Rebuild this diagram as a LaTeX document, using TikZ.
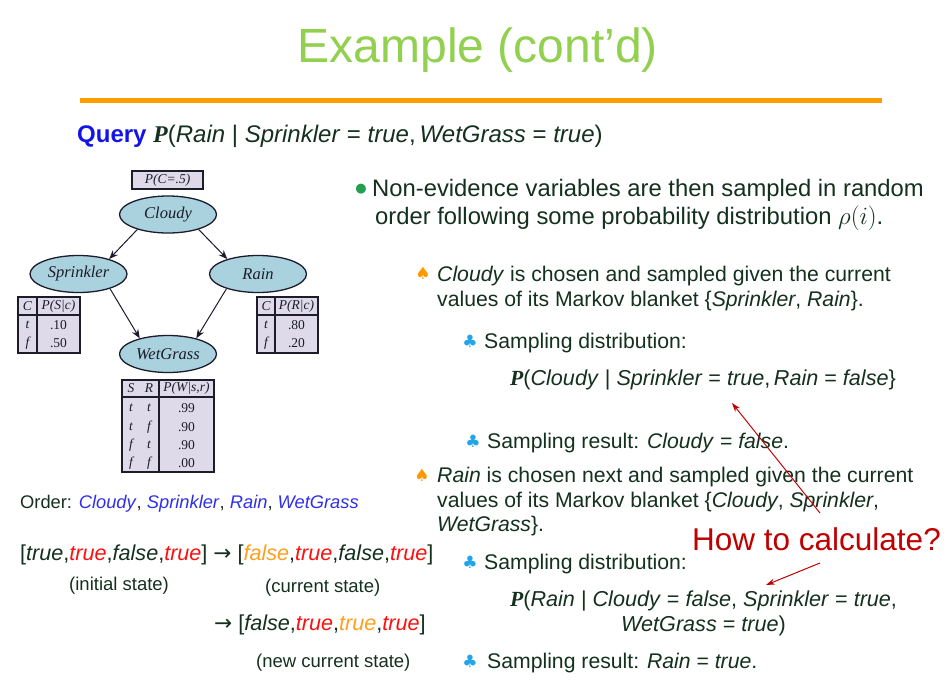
\documentclass[tikz,border=0pt]{standalone}
\usepackage{fontspec}
\setmainfont{Liberation Sans}
\newfontfamily\serifface{Liberation Serif}
\newfontfamily\symface{DejaVu Sans}
\usetikzlibrary{shapes.geometric,arrows.meta}
\definecolor{titlegreen}{HTML}{92D050}
\definecolor{rulecol}{HTML}{FF9D00}
\definecolor{ink}{HTML}{14301E}
\definecolor{qblue}{HTML}{1414E6}
\definecolor{vblue}{HTML}{3030E8}
\definecolor{clubblue}{HTML}{1FA5E8}
\definecolor{spadeorange}{HTML}{FF9900}
\definecolor{dotgreen}{HTML}{22A050}
\definecolor{calcred}{HTML}{C00000}
\definecolor{nodefill}{HTML}{A9D1DE}
\definecolor{cptfill}{HTML}{DEDAEA}
\definecolor{netline}{HTML}{1C1C2C}
\definecolor{valred}{HTML}{FF1010}
\definecolor{valorange}{HTML}{FFA020}
\newcommand\var[1]{\textit{#1}}
\newcommand\bigP{{\serifface\bfseries\itshape P}}
\newcommand\fsz[2]{\fontsize{#1}{#2}\selectfont}
\newcommand\rarr{{\symface →}}

\begin{document}
\begin{tikzpicture}[x=1pt,y=-1pt,
  txt/.style={anchor=base west,inner sep=0pt,text=ink,font=\fsz{21.2}{25}},
  formula/.style={txt,font=\fsz{21.6}{25}},
  state/.style={txt,font=\fsz{21.6}{25}},
  statelab/.style={txt,font=\fsz{18.5}{22}},
  varnode/.style={ellipse,draw=netline,line width=1.3pt,fill=nodefill,minimum width=97pt,minimum height=37pt,inner sep=0pt,font=\serifface\itshape\fsz{16.5}{16.5},text=netline},
  cpt/.style={draw=netline,line width=2pt,fill=cptfill},
  cptline/.style={draw=netline,line width=1.6pt},
  cell/.style={inner sep=0pt,font=\serifface\itshape\fsz{13.5}{13.5},text=netline},
  num/.style={inner sep=0pt,font=\serifface\fsz{13.5}{13.5},text=netline},
  edge/.style={draw=netline,line width=1pt,-{Stealth[length=9pt,width=7pt]}},
  club/.style={inner sep=0pt,text=clubblue,font=\symface\fsz{17}{17}},
  spade/.style={inner sep=0pt,text=spadeorange,font=\symface\fsz{17}{17}},
  callout/.style={draw=calcred,line width=1pt,-{Stealth[length=9pt,width=6pt]}},
]
\fill[white] (0,0) rectangle (950,686);
\useasboundingbox (0,0) rectangle (950,686);

% heading and rule
\node[inner sep=0pt,text=titlegreen,font=\fsz{48}{48}] (title) at (478,50) {Example (cont’d)};
\draw[rulecol,line width=5pt] (80,100) -- (882,100);

% query
\node[txt,font=\fsz{24}{28}] (query) at (77,142) {\textcolor{qblue}{\bfseries Query} \bigP(\var{Rain} | \var{Sprinkler} = \var{true},\,\var{WetGrass} = \var{true})};

% Bayesian network
\node[draw=netline,line width=1.6pt,fill=cptfill,minimum width=71pt,minimum height=18pt,inner sep=0pt,font=\serifface\itshape\fsz{13.5}{13.5},text=netline] (pc) at (167.5,180) {P(C=.5)};
\node[varnode] (cloudy) at (168,214.5) {Cloudy};
\node[varnode] (sprinkler) at (78.5,274) {Sprinkler};
\node[varnode] (rain) at (258,274) {Rain};
\node[varnode] (wetgrass) at (168,354) {WetGrass};
\draw[edge] (cloudy.-154) -- (sprinkler.26);
\draw[edge] (cloudy.-26) -- (rain.154);
\draw[edge] (sprinkler.-25) -- (wetgrass.151);
\draw[edge] (rain.-155) -- (wetgrass.29);

% CPT of Sprinkler
\draw[cpt] (18,297) rectangle (80,353);
\draw[cptline] (37,297) -- (37,353) (18,315) -- (80,315);
\node[cell] (sh1) at (27.5,306) {C};
\node[cell] (sh2) at (58.5,306) {P(S|c)};
\node[cell] (s11) at (27.5,325) {t};
\node[num] (s12) at (58.5,325) {.10};
\node[cell] (s21) at (27.5,343) {f};
\node[num] (s22) at (58.5,343) {.50};

% CPT of Rain
\draw[cpt] (257,297) rectangle (318,353);
\draw[cptline] (275,297) -- (275,353) (257,315) -- (318,315);
\node[cell] (rh1) at (266,306) {C};
\node[cell] (rh2) at (296.5,306) {P(R|c)};
\node[cell] (r11) at (266,325) {t};
\node[num] (r12) at (296.5,325) {.80};
\node[cell] (r21) at (266,343) {f};
\node[num] (r22) at (296.5,343) {.20};

% CPT of WetGrass
\draw[cpt] (122,380) rectangle (214,472);
\draw[cptline] (159,380) -- (159,472) (122,397) -- (214,397);
\node[cell] (wh1) at (131,388.5) {S};
\node[cell] (wh2) at (149,388.5) {R};
\node[cell] (wh3) at (186.5,388.5) {P(W|s,r)};
\node[cell] (w11) at (131,408) {t};
\node[cell] (w12) at (149,408) {t};
\node[num] (w13) at (186.5,408) {.99};
\node[cell] (w21) at (131,427) {t};
\node[cell] (w22) at (149,427) {f};
\node[num] (w23) at (186.5,427) {.90};
\node[cell] (w31) at (131,445) {f};
\node[cell] (w32) at (149,445) {t};
\node[num] (w33) at (186.5,445) {.90};
\node[cell] (w41) at (131,463) {f};
\node[cell] (w42) at (149,463) {f};
\node[num] (w43) at (186.5,463) {.00};

% sampling order and states
\node[txt,font=\fsz{18.3}{22}] (order) at (20,508) {Order: \textcolor{vblue}{\var{Cloudy}}, \textcolor{vblue}{\var{Sprinkler}}, \textcolor{vblue}{\var{Rain}}, \textcolor{vblue}{\var{WetGrass}}};
\node[state] (st1) at (20,560) {[\var{true},\textcolor{valred}{\var{true}},\var{false},\textcolor{valred}{\var{true}}] \rarr{} [\textcolor{valorange}{\var{false}},\textcolor{valred}{\var{true}},\var{false},\textcolor{valred}{\var{true}}]};
\node[statelab] (st1lab) at (69,590) {(initial state)};
\node[statelab] (st2lab) at (265,592) {(current state)};
\node[state] (st3) at (214,630) {\rarr{} [\var{false},\textcolor{valred}{\var{true}},\textcolor{valorange}{\var{true}},\textcolor{valred}{\var{true}}]};
\node[statelab] (st3lab) at (256,667) {(new current state)};

% bullet list
\node[inner sep=0pt,text=dotgreen,font=\symface\fsz{13}{13}] (dot1) at (361,189) {●};
\node[txt,font=\fsz{23.8}{28}] (b1a) at (372,196) {Non-evidence variables are then sampled in random};
\node[txt,font=\fsz{23.8}{28}] (b1b) at (375,224) {order following some probability distribution $\rho(i)$.};

\node[spade] (sp1) at (423,273) {♠};
\node[txt] (s1a) at (437,281) {\var{Cloudy} is chosen and sampled given the current};
\node[txt] (s1b) at (437,306) {values of its Markov blanket \{\var{Sprinkler}, \var{Rain}\}.};
\node[club] (c1) at (470,341) {♣};
\node[txt] (c1t) at (484,348) {Sampling distribution:};
\node[formula] (f1) at (510,385) {\bigP(\var{Cloudy} | \var{Sprinkler} = \var{true},\,\var{Rain} = \var{false}\}};
\node[club] (c2) at (473,441) {♣};
\node[txt] (c2t) at (487,448) {Sampling result: \var{Cloudy} = \var{false}.};

\node[spade] (sp2) at (422,475) {♠};
\node[txt] (s2a) at (437,482) {\var{Rain} is chosen next and sampled given the current};
\node[txt] (s2b) at (437,507) {values of its Markov blanket \{\var{Cloudy}, \var{Sprinkler},};
\node[txt] (s2c) at (437,531) {\var{WetGrass}\}.};
\node[club] (c3) at (470,562) {♣};
\node[txt] (c3t) at (484,569) {Sampling distribution:};
\node[formula] (f2a) at (510,606) {\bigP(\var{Rain} | \var{Cloudy} = \var{false}, \var{Sprinkler} = \var{true},};
\node[formula] (f2b) at (621,631) {\var{WetGrass} = \var{true})};
\node[club] (c4) at (470,661) {♣};
\node[txt] (c4t) at (487,668) {Sampling result: \var{Rain} = \var{true}.};

% callout
\node[txt,text=calcred,font=\fsz{31.5}{32}] (howto) at (692,550) {How to calculate?};
\coordinate (up0) at (820,513);
\coordinate (up1) at (732,403);
\coordinate (dn0) at (820,563);
\coordinate (dn1) at (766,585);
\draw[callout] (up0) -- (up1);
\draw[callout] (dn0) -- (dn1);
\end{tikzpicture}
\end{document}
